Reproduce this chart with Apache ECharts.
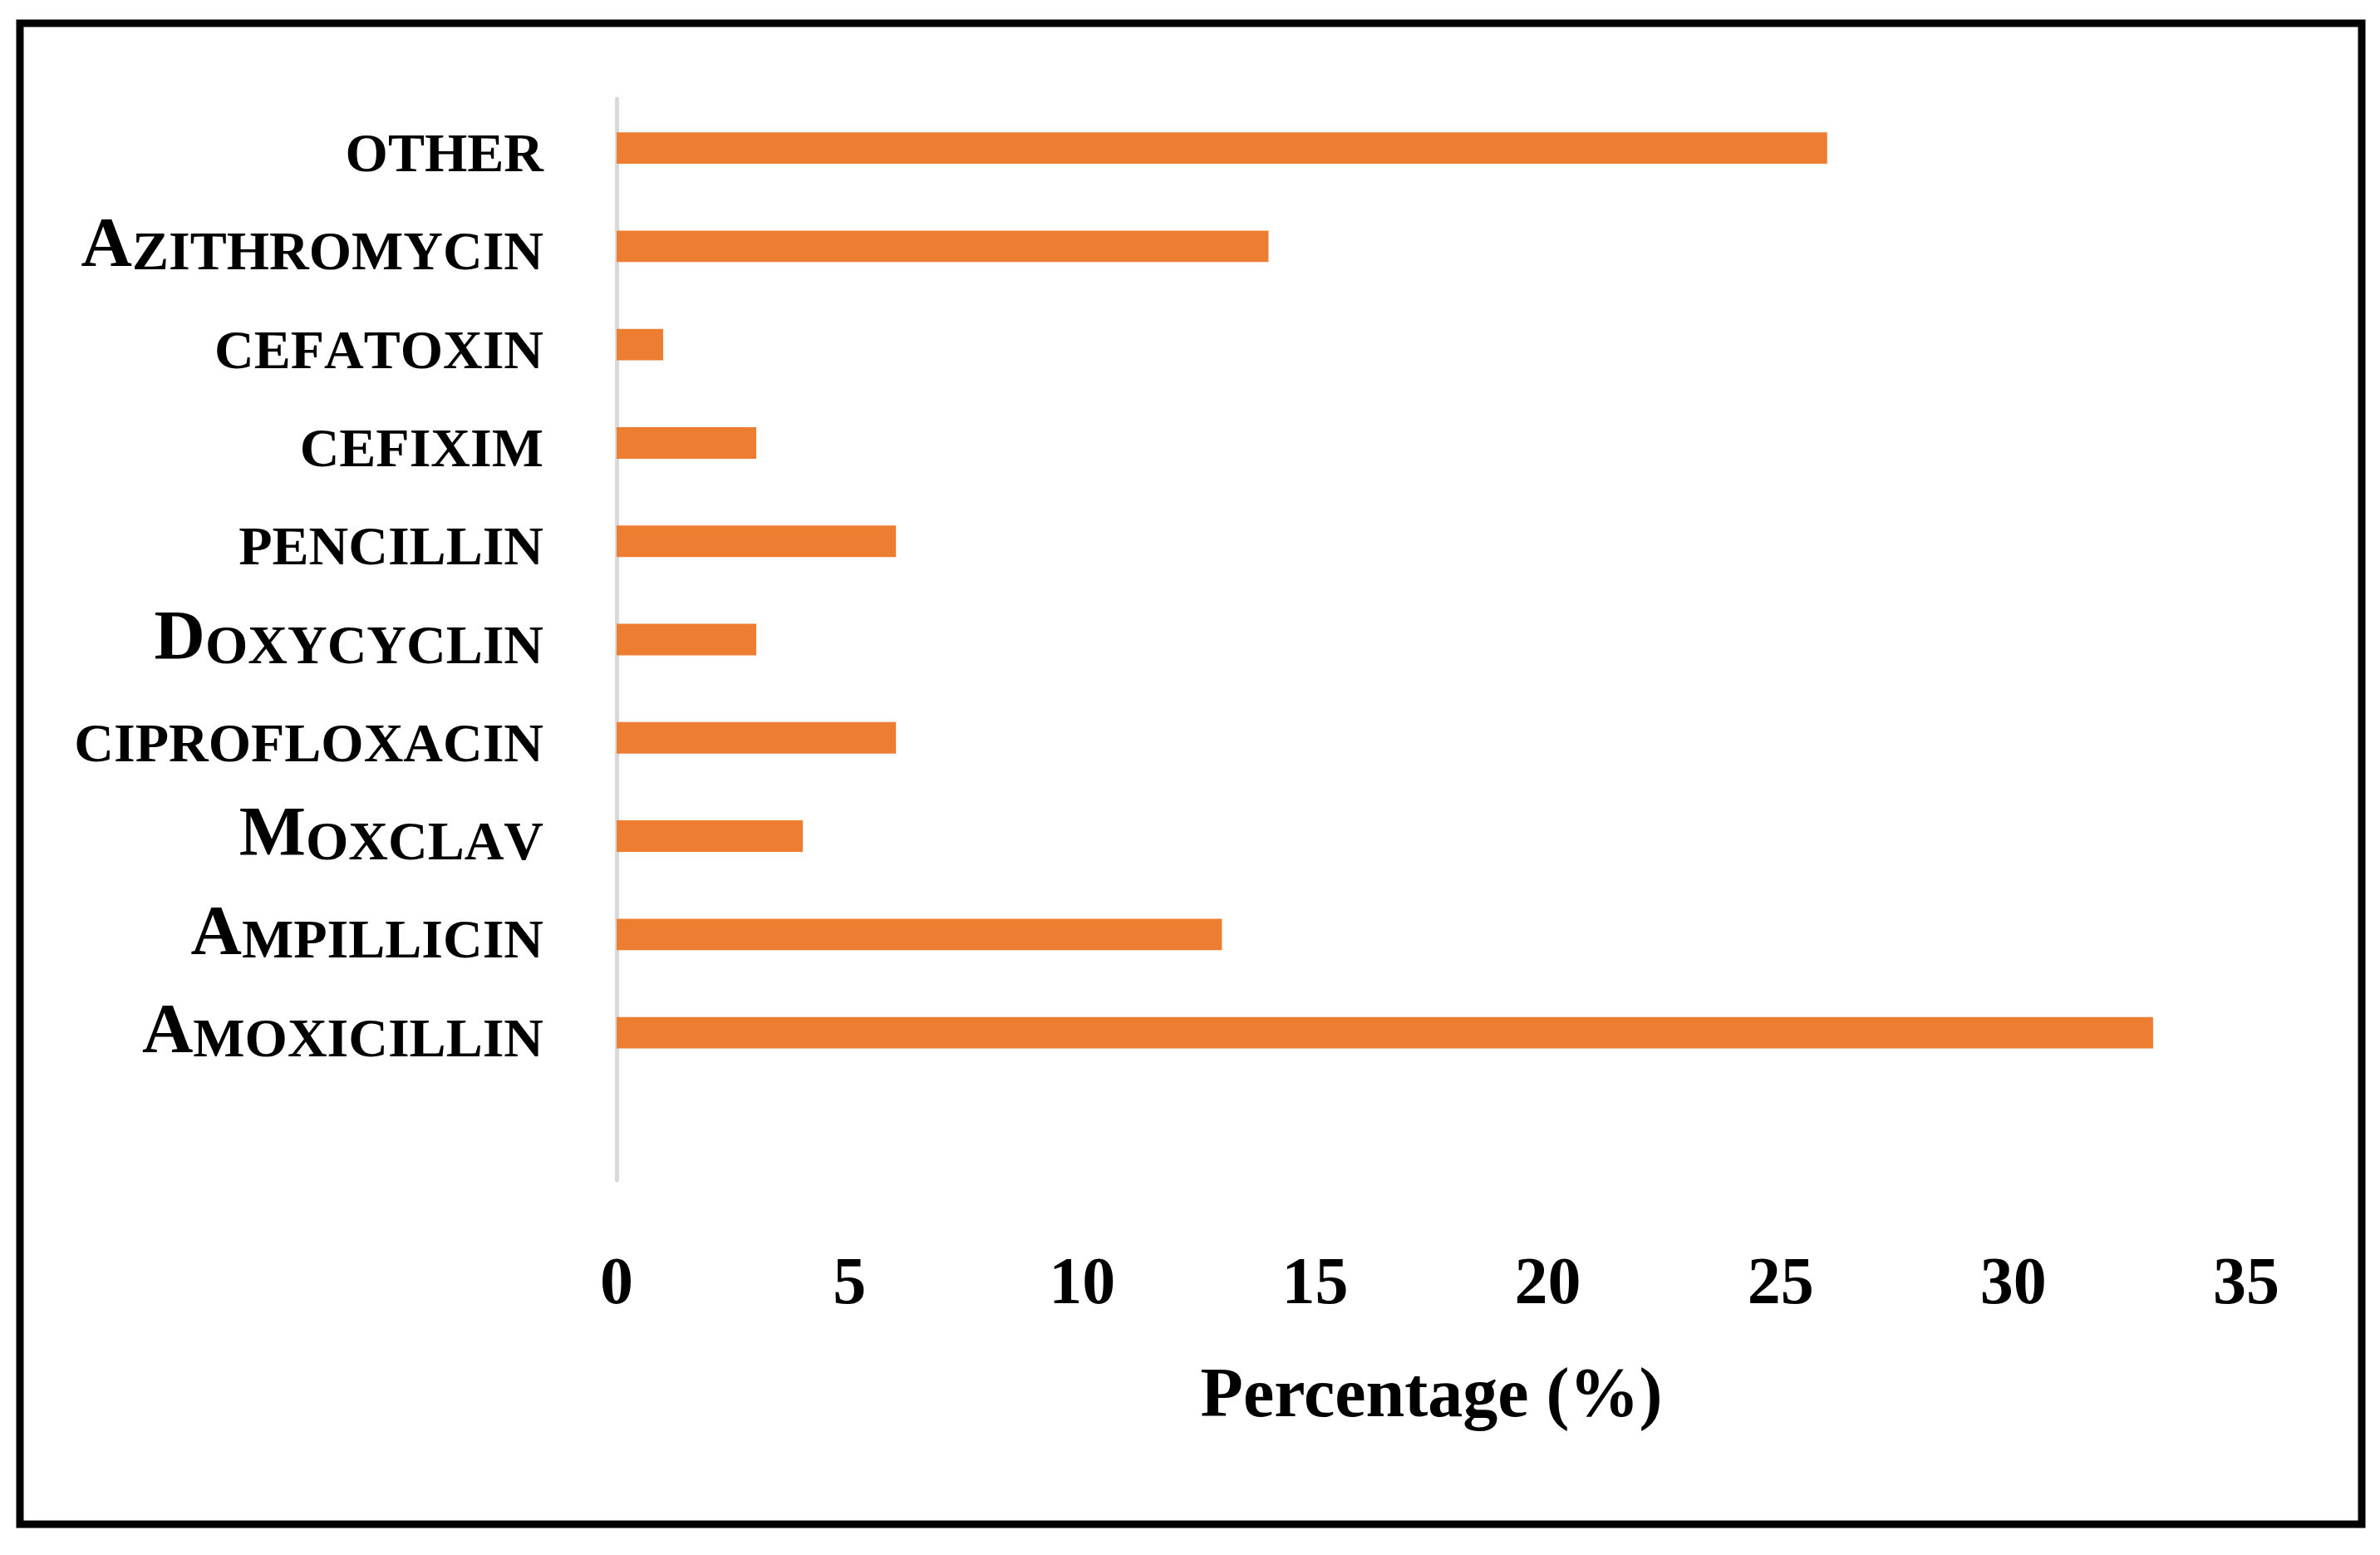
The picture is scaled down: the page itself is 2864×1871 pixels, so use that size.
<!DOCTYPE html>
<html>
<head>
<meta charset="utf-8">
<script src="https://cdn.jsdelivr.net/npm/echarts@6/dist/echarts.min.js"></script>
<style>
html,body{margin:0;padding:0;background:#fff;}
#chart{width:2864px;height:1871px;}
</style>
</head>
<body>
<div id="chart"></div>
<script>
// Categories listed bottom to top (first is an empty slot, as in the original chart)
var categories = ['', 'Amoxicillin', 'Ampillicin', 'Moxclav', 'ciprofloxacin', 'Doxycyclin', 'pencillin', 'cefixim', 'cefatoxin', 'Azithromycin', 'other'];
var percentages = [null, 33, 13, 4, 6, 3, 6, 3, 1, 14, 26];
var xTicks = [0, 5, 10, 15, 20, 25, 30, 35];
var xTitle = 'Percentage (%)';

function smallCaps(name) {
  var out = '';
  for (var i = 0; i < name.length; i++) {
    var ch = name[i];
    if (ch >= 'A' && ch <= 'Z') out += '{b|' + ch + '}';
    else out += '{s|' + ch.toUpperCase() + '}';
  }
  return out;
}

var chart = echarts.init(document.getElementById('chart'));
var FONT = 'Liberation Serif';
chart.setOption({
  backgroundColor: '#ffffff',
  animation: false,
  graphic: [{
    type: 'rect',
    shape: {x: 24, y: 28, width: 2818, height: 1806},
    style: {fill: 'none', stroke: '#000', lineWidth: 9},
    silent: true
  }],
  grid: {left: 742, top: 119, width: 1961, height: 1301, outerBoundsMode: 'none', containLabel: false},
  xAxis: {
    type: 'value',
    min: xTicks[0],
    max: xTicks[xTicks.length - 1],
    interval: 5,
    axisLine: {show: false},
    axisTick: {show: false},
    splitLine: {show: false},
    axisLabel: {
      margin: 127,
      verticalAlign: 'middle',
      fontFamily: FONT, fontWeight: 'bold', fontSize: 80, color: '#000'
    },
    name: xTitle,
    nameLocation: 'middle',
    nameGap: 262,
    nameTextStyle: {fontFamily: FONT, fontWeight: 'bold', fontSize: 84, color: '#000', verticalAlign: 'middle'}
  },
  yAxis: {
    type: 'category',
    data: categories,
    axisLine: {show: true, lineStyle: {color: '#d9d9d9', width: 5}},
    axisTick: {show: false},
    splitLine: {show: false},
    axisLabel: {
      margin: 88,
      formatter: function (v) { return v ? smallCaps(v) : ''; },
      rich: {
        b: {fontFamily: FONT, fontWeight: 'bold', fontSize: 85, color: '#000', lineHeight: 88, verticalAlign: 'bottom'},
        s: {fontFamily: FONT, fontWeight: 'bold', fontSize: 66, color: '#000', lineHeight: 88, verticalAlign: 'bottom'}
      }
    }
  },
  series: [{
    type: 'bar',
    data: percentages,
    barWidth: '32%',
    itemStyle: {color: '#ED7D31'},
    silent: true
  }]
});
</script>
</body>
</html>
